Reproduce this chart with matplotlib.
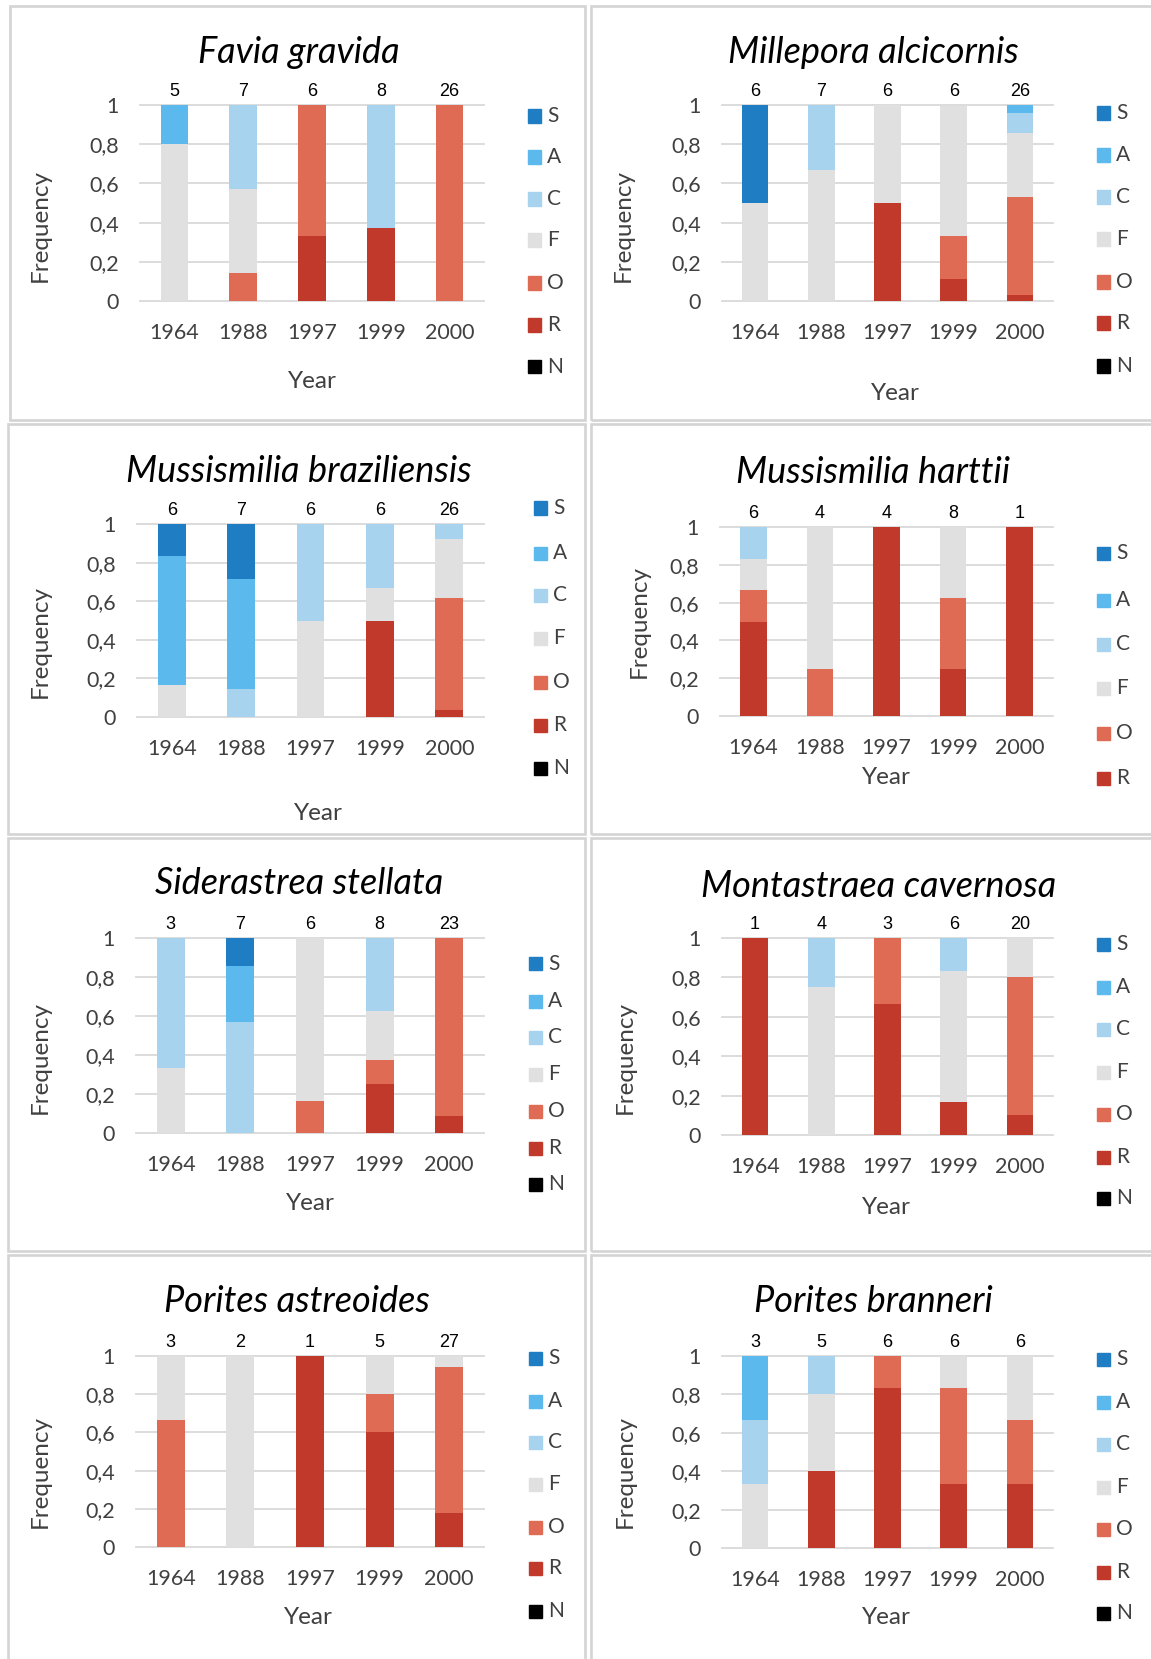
import numpy as np
import matplotlib.pyplot as plt
from matplotlib.patches import Rectangle

plt.rcParams['font.family'] = ['Lato', 'DejaVu Sans']

W, H = 1151, 1659

YEARS = ['1964', '1988', '1997', '1999', '2000']
CLASSES = ['S', 'A', 'C', 'F', 'O', 'R', 'N']
STACK_ORDER = ['R', 'O', 'F', 'C', 'A', 'S', 'N']
YTICK_LABELS = ['0', '0,2', '0,4', '0,6', '0,8', '1']
COLORS = {
    'S': '#1f7dc4',
    'A': '#5bb9ee',
    'C': '#a7d3ee',
    'F': '#e0e0e0',
    'O': '#e06b54',
    'R': '#c0392b',
    'N': '#000000',
}

# colony counts per year and class frequencies (rows follow CLASSES)
FAVIA_N = [5, 7, 6, 8, 26]
FAVIA = [
    [0, 0, 0, 0, 0],
    [1/5, 0, 0, 0, 0],
    [0, 3/7, 0, 5/8, 0],
    [4/5, 3/7, 0, 0, 0],
    [0, 1/7, 4/6, 0, 1],
    [0, 0, 2/6, 3/8, 0],
    [0, 0, 0, 0, 0],
]

MILLEPORA_N = [6, 7, 6, 6, 26]
MILLEPORA = [
    [0.5, 0, 0, 0, 0],
    [0, 0, 0, 0, 0.04],
    [0, 0.333, 0, 0, 0.105],
    [0.5, 0.667, 0.5, 0.667, 0.322],
    [0, 0, 0, 0.22, 0.503],
    [0, 0, 0.5, 0.11, 0.03],
    [0, 0, 0, 0, 0],
]

BRAZILIENSIS_N = [6, 7, 6, 6, 26]
BRAZILIENSIS = [
    [1/6, 2/7, 0, 0, 0],
    [4/6, 4/7, 0, 0, 0],
    [0, 1/7, 0.5, 2/6, 2/26],
    [1/6, 0, 0.5, 1/6, 8/26],
    [0, 0, 0, 0, 15/26],
    [0, 0, 0, 3/6, 1/26],
    [0, 0, 0, 0, 0],
]

HARTTII_N = [6, 4, 4, 8, 1]
HARTTII = [
    [0, 0, 0, 0, 0],
    [0, 0, 0, 0, 0],
    [1/6, 0, 0, 0, 0],
    [1/6, 3/4, 0, 3/8, 0],
    [1/6, 1/4, 0, 3/8, 0],
    [3/6, 0, 1, 2/8, 1],
    [0, 0, 0, 0, 0],
]

SIDERASTREA_N = [3, 7, 6, 8, 23]
SIDERASTREA = [
    [0, 1/7, 0, 0, 0],
    [0, 2/7, 0, 0, 0],
    [2/3, 4/7, 0, 3/8, 0],
    [1/3, 0, 5/6, 2/8, 0],
    [0, 0, 1/6, 1/8, 21/23],
    [0, 0, 0, 2/8, 2/23],
    [0, 0, 0, 0, 0],
]

MONTASTRAEA_N = [1, 4, 3, 6, 20]
MONTASTRAEA = [
    [0, 0, 0, 0, 0],
    [0, 0, 0, 0, 0],
    [0, 1/4, 0, 1/6, 0],
    [0, 3/4, 0, 4/6, 0.2],
    [0, 0, 1/3, 0, 0.7],
    [1, 0, 2/3, 1/6, 0.1],
    [0, 0, 0, 0, 0],
]

ASTREOIDES_N = [3, 2, 1, 5, 27]
ASTREOIDES = [
    [0, 0, 0, 0, 0],
    [0, 0, 0, 0, 0],
    [0, 0, 0, 0, 0],
    [1/3, 1, 0, 0.2, 0.055],
    [2/3, 0, 0, 0.2, 0.765],
    [0, 0, 1, 0.6, 0.18],
    [0, 0, 0, 0, 0],
]

BRANNERI_N = [3, 5, 6, 6, 6]
BRANNERI = [
    [0, 0, 0, 0, 0],
    [1/3, 0, 0, 0, 0],
    [1/3, 0.2, 0, 0, 0],
    [1/3, 0.4, 0, 1/6, 2/6],
    [0, 0, 1/6, 3/6, 2/6],
    [0, 0.4, 5/6, 2/6, 2/6],
    [0, 0, 0, 0, 0],
]

SPECIES = [
    ('Favia gravida', FAVIA, FAVIA_N, CLASSES),
    ('Millepora alcicornis', MILLEPORA, MILLEPORA_N, CLASSES),
    ('Mussismilia braziliensis', BRAZILIENSIS, BRAZILIENSIS_N, CLASSES),
    ('Mussismilia harttii', HARTTII, HARTTII_N, CLASSES[:-1]),
    ('Siderastrea stellata', SIDERASTREA, SIDERASTREA_N, CLASSES),
    ('Montastraea cavernosa', MONTASTRAEA, MONTASTRAEA_N, CLASSES),
    ('Porites astreoides', ASTREOIDES, ASTREOIDES_N, CLASSES),
    ('Porites branneri', BRANNERI, BRANNERI_N, CLASSES),
]

# pixel layout of each chart block (origin top-left)
LAYOUT = [
    dict(frame=(10, 6, 585, 420), plot=(140, 484, 105, 301), title=(299, 63),
         year=(312, 382), freq=(40, 225), leg_x=528,
         leg_y=[116, 157, 199, 240, 283, 325, 367]),
    dict(frame=(591, 6, 1165, 420), plot=(722, 1053, 105, 301), title=(873, 63),
         year=(895, 393), freq=(623, 225), leg_x=1097,
         leg_y=[113, 155, 197, 239, 282, 323, 366]),
    dict(frame=(8, 424, 585, 834), plot=(137, 484, 524, 717), title=(299, 482),
         year=(318, 813), freq=(40, 642), leg_x=534,
         leg_y=[508, 553, 595, 638, 682, 725, 768]),
    dict(frame=(591, 424, 1165, 834), plot=(720, 1053, 527, 716), title=(873, 483),
         year=(886, 778), freq=(639, 622), leg_x=1097,
         leg_y=[553, 600, 644, 688, 733, 778]),
    dict(frame=(8, 838, 585, 1251), plot=(136, 484, 938, 1133), title=(299, 894),
         year=(310, 1203), freq=(40, 1057), leg_x=529,
         leg_y=[964, 1001, 1037, 1074, 1111, 1148, 1184]),
    dict(frame=(591, 838, 1165, 1251), plot=(722, 1053, 938, 1135), title=(879, 897),
         year=(886, 1207), freq=(625, 1057), leg_x=1097,
         leg_y=[944, 987, 1029, 1072, 1114, 1157, 1198]),
    dict(frame=(8, 1255, 585, 1675), plot=(136, 484, 1356, 1547), title=(297, 1312),
         year=(308, 1618), freq=(40, 1472), leg_x=529,
         leg_y=[1358, 1401, 1442, 1484, 1527, 1568, 1611]),
    dict(frame=(591, 1255, 1165, 1675), plot=(722, 1053, 1356, 1548), title=(873, 1312),
         year=(886, 1618), freq=(625, 1472), leg_x=1097,
         leg_y=[1359, 1402, 1444, 1487, 1529, 1572, 1613]),
]

TEXT = '#404040'


def fx(px):
    return px / W


def fy(py):
    return 1 - py / H


fig = plt.figure(figsize=(W / 100, H / 100), dpi=100)
fig.patch.set_facecolor('white')

for (name, data, counts, legend_classes), lay in zip(SPECIES, LAYOUT):
    # chart-area outline
    x0, y0, x1, y1 = lay['frame']
    fig.patches.append(Rectangle((fx(x0), fy(y1)), (x1 - x0) / W, (y1 - y0) / H,
                                 transform=fig.transFigure, fill=False,
                                 ec='#d4d4d4', lw=1.9))

    left, right, top, bottom = lay['plot']
    ax = fig.add_axes([fx(left), fy(bottom), (right - left) / W, (bottom - top) / H])

    x = np.arange(len(YEARS))
    base = np.zeros(len(YEARS))
    table = dict(zip(CLASSES, data))
    for cls in STACK_ORDER:
        vals = np.asarray(table[cls], dtype=float)
        ax.bar(x, vals, width=0.4, bottom=base, color=COLORS[cls], zorder=2)
        base += vals

    ax.set_xlim(-0.5, len(YEARS) - 0.5)
    ax.set_ylim(0, 1)
    ax.set_yticks(np.linspace(0, 1, 6), YTICK_LABELS)
    ax.set_xticks(x, YEARS)
    ax.tick_params(length=0, labelsize=15.5, colors=TEXT)
    ax.tick_params(axis='x', pad=16)
    ax.tick_params(axis='y', pad=15)
    ax.grid(axis='y', color='#d9d9d9', lw=1.3, zorder=0)
    for gl in ax.get_ygridlines():
        gl.set_clip_on(False)
    ax.set_axisbelow(True)
    for s in ax.spines.values():
        s.set_visible(False)

    # sample sizes above the bars
    for i, n in enumerate(counts):
        ax.annotate(str(n), (i, 1), xytext=(0, 10), textcoords='offset points',
                    ha='center', va='center', fontsize=13,
                    family='Liberation Sans', color='black')

    fig.text(fx(lay['title'][0]), fy(lay['title'][1]), name, ha='center',
             va='baseline', fontsize=26, style='italic', color='black')
    fig.text(fx(lay['year'][0]), fy(lay['year'][1]), 'Year', ha='center',
             va='center', fontsize=17.5, color=TEXT)
    fig.text(fx(lay['freq'][0]), fy(lay['freq'][1]), 'Frequency', ha='center',
             va='center', rotation=90, fontsize=17.5, color=TEXT)

    # legend column
    sx = lay['leg_x']
    for cls, ly in zip(legend_classes, lay['leg_y']):
        fig.patches.append(Rectangle((fx(sx), fy(ly + 6.5)), 13 / W, 13 / H,
                                     transform=fig.transFigure,
                                     color=COLORS[cls]))
        fig.text(fx(sx + 19), fy(ly), cls, ha='left', va='center',
                 fontsize=15, color=TEXT)

fig.savefig('out.png', dpi=100)
